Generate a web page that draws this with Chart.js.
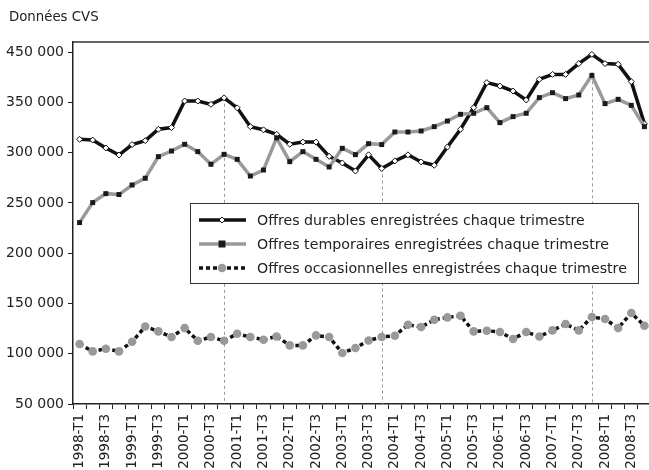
<!DOCTYPE html>
<html>
<head>
<meta charset="utf-8">
<script src="https://cdn.jsdelivr.net/npm/chart.js@4/dist/chart.umd.min.js"></script>
<style>
  html, body { margin: 0; padding: 0; background: #fff; overflow: hidden; }
  #wrap { width: 649px; height: 470px; position: relative; overflow: hidden; }
  #c { display: block; }
</style>
</head>
<body>
<div id="wrap"><canvas id="c" width="656" height="470" style="width:656px;height:470px"></canvas></div>
<script>
const quarters = [
  '1998-T1','1998-T2','1998-T3','1998-T4','1999-T1','1999-T2','1999-T3','1999-T4',
  '2000-T1','2000-T2','2000-T3','2000-T4','2001-T1','2001-T2','2001-T3','2001-T4',
  '2002-T1','2002-T2','2002-T3','2002-T4','2003-T1','2003-T2','2003-T3','2003-T4',
  '2004-T1','2004-T2','2004-T3','2004-T4','2005-T1','2005-T2','2005-T3','2005-T4',
  '2006-T1','2006-T2','2006-T3','2006-T4','2007-T1','2007-T2','2007-T3','2007-T4',
  '2008-T1','2008-T2','2008-T3','2008-T4'
];
const durables = [
  313200, 312500, 304600, 297600, 308000, 311900, 323200, 324900,
  351300, 351300, 348000, 354500, 344500, 325800, 322700, 318200,
  308300, 310500, 310500, 296300, 289700, 281700, 297800, 284200,
  291700, 297800, 290700, 287400, 305600, 323200, 344700, 369600,
  366200, 361200, 352300, 372900, 377800, 377800, 388500, 397700,
  388500, 387800, 370600, 328600
];
const temporaires = [
  230400, 250300, 259200, 258300, 267800, 274500, 296000, 301600,
  308300, 301000, 288400, 298300, 293300, 276700, 282700, 314600,
  291000, 301000, 293300, 285700, 304300, 298000, 308900, 308000,
  320500, 320500, 321500, 325800, 331400, 338100, 339100, 344700,
  329800, 335800, 339100, 354700, 359600, 353700, 357300, 376800,
  348700, 353000, 347000, 325800
];
const occasionnelles = [
  109600, 102300, 105000, 102300, 111900, 127100, 122200, 116600,
  125500, 112900, 116600, 112900, 119900, 116600, 113900, 117200,
  108300, 108300, 118200, 116600, 100700, 105700, 113200, 116600,
  117900, 128800, 126500, 133800, 136100, 137800, 122200, 122900,
  121600, 114600, 121600, 117200, 123200, 129500, 123200, 136500,
  134500, 125500, 140500, 127800
];
const seriesNames = [
  'Offres durables enregistrées chaque trimestre',
  'Offres temporaires enregistrées chaque trimestre',
  'Offres occasionnelles enregistrées chaque trimestre'
];
const yTickValues = [50000, 100000, 150000, 200000, 250000, 300000, 350000, 400000];
const yTickLabels = ['50 000', '100 000', '150 000', '200 000', '250 000', '300 000', '350 000', '450 000'];
const markerQuarters = ['2000-T4', '2003-T4', '2007-T4'];
const markerSeries = [0, 0, 1];
const chartTitle = 'Données CVS';

const FONT = 'DejaVu Sans';

const framePlugin = {
  id: 'frame',
  beforeDatasetsDraw(chart) {
    const ctx = chart.ctx, x = chart.scales.x, area = chart.chartArea;
    ctx.save();
    ctx.strokeStyle = '#9a9a9a';
    ctx.lineWidth = 1;
    ctx.setLineDash([3, 3]);
    markerQuarters.forEach((q, k) => {
      const i = quarters.indexOf(q);
      const pt = chart.getDatasetMeta(markerSeries[k]).data[i];
      const px = Math.round(x.getPixelForValue(i)) + 0.5;
      ctx.beginPath();
      ctx.moveTo(px, pt.y);
      ctx.lineTo(px, area.bottom);
      ctx.stroke();
    });
    ctx.restore();
  },
  afterDraw(chart) {
    const ctx = chart.ctx, area = chart.chartArea;
    ctx.save();
    ctx.strokeStyle = '#333';
    ctx.lineWidth = 1.5;
    ctx.beginPath();
    ctx.moveTo(area.left, area.top);
    ctx.lineTo(area.right, area.top);
    ctx.stroke();
    ctx.fillStyle = '#222';
    ctx.font = '13.3px "' + FONT + '"';
    ctx.textBaseline = 'middle';
    ctx.textAlign = 'left';
    ctx.fillText(chartTitle, 9, 18);
    const bx = 190.5, by = 203.5, bw = 448, bh = 80;
    ctx.fillStyle = '#fff';
    ctx.fillRect(bx, by, bw, bh);
    ctx.strokeStyle = '#333';
    ctx.lineWidth = 1;
    ctx.strokeRect(bx, by, bw, bh);
    const rows = [220, 244, 268];
    chart.data.datasets.forEach((ds, k) => {
      const y = rows[k];
      ctx.save();
      ctx.strokeStyle = ds.borderColor;
      ctx.lineWidth = ds.borderWidth;
      ctx.setLineDash(ds.borderDash || []);
      ctx.beginPath();
      ctx.moveTo(199, y);
      ctx.lineTo(246, y);
      ctx.stroke();
      ctx.restore();
      ctx.save();
      ctx.fillStyle = ds.pointBackgroundColor;
      ctx.strokeStyle = ds.pointBorderColor;
      ctx.lineWidth = ds.pointBorderWidth;
      ctx.setLineDash([]);
      ctx.beginPath();
      const r = ds.pointRadius;
      if (ds.pointStyle === 'circle') {
        ctx.arc(222, y, r, 0, Math.PI * 2);
      } else if (ds.pointStyle === 'rect') {
        ctx.rect(222 - r, y - r, r * 2, r * 2);
      } else {
        ctx.moveTo(222, y - r);
        ctx.lineTo(222 + r, y);
        ctx.lineTo(222, y + r);
        ctx.lineTo(222 - r, y);
        ctx.closePath();
      }
      ctx.fill();
      if (ds.pointBorderWidth > 0) ctx.stroke();
      ctx.restore();
      ctx.fillStyle = '#222';
      ctx.font = '14.2px "' + FONT + '"';
      ctx.textBaseline = 'middle';
      ctx.textAlign = 'left';
      ctx.fillText(ds.label, 257, y + 1);
    });
    ctx.restore();
  }
};

new Chart(document.getElementById('c'), {
  type: 'line',
  data: {
    labels: quarters,
    datasets: [
      {
        label: seriesNames[0],
        data: durables,
        borderColor: '#111',
        borderWidth: 3.5,
        pointStyle: 'rectRot',
        pointRadius: 3,
        pointBackgroundColor: '#fff',
        pointBorderColor: '#111',
        pointBorderWidth: 1,
        tension: 0,
        order: 2
      },
      {
        label: seriesNames[1],
        data: temporaires,
        borderColor: '#9a9a9a',
        borderWidth: 3.5,
        pointStyle: 'rect',
        pointRadius: 3.5,
        pointBackgroundColor: '#1a1a1a',
        pointBorderColor: '#1a1a1a',
        pointBorderWidth: 0,
        tension: 0,
        order: 1
      },
      {
        label: seriesNames[2],
        data: occasionnelles,
        borderColor: '#111',
        borderWidth: 3.5,
        borderDash: [4, 3],
        pointStyle: 'circle',
        pointRadius: 4.3,
        pointBackgroundColor: '#999',
        pointBorderColor: '#999',
        pointBorderWidth: 0,
        tension: 0,
        order: 0
      }
    ]
  },
  options: {
    responsive: false,
    maintainAspectRatio: false,
    devicePixelRatio: 1,
    animation: false,
    layout: { padding: { top: 42, right: 3, left: 0, bottom: 0 } },
    plugins: {
      legend: { display: false },
      tooltip: { enabled: false },
      title: { display: false }
    },
    scales: {
      x: {
        offset: true,
        grid: { offset: true, drawOnChartArea: false, drawTicks: true, tickLength: 5, color: '#222', lineWidth: 1 },
        border: { display: true, color: '#222', width: 1.5 },
        ticks: {
          autoSkip: false,
          minRotation: 90,
          maxRotation: 90,
          padding: 5,
          color: '#222',
          font: { family: FONT, size: 13.5 },
          callback: (v, i) => (i % 2 === 0 ? quarters[i] : '')
        },
        afterFit: (s) => { s.height = 66; s.paddingLeft = 0; s.paddingRight = 0; }
      },
      y: {
        min: 50000,
        max: 410000,
        afterBuildTicks: (s) => { s.ticks = yTickValues.map(v => ({ value: v })); },
        grid: { drawOnChartArea: false, drawTicks: true, tickLength: 5, color: '#222', lineWidth: 1 },
        border: { display: true, color: '#222', width: 1.5 },
        ticks: {
          padding: 4,
          color: '#222',
          font: { family: FONT, size: 14 },
          callback: (v) => { const k = yTickValues.indexOf(v); return k >= 0 ? yTickLabels[k] : ''; }
        },
        afterFit: (s) => { s.width = 73; s.paddingTop = 0; s.paddingBottom = 0; }
      }
    }
  },
  plugins: [framePlugin]
});
</script>
</body>
</html>
